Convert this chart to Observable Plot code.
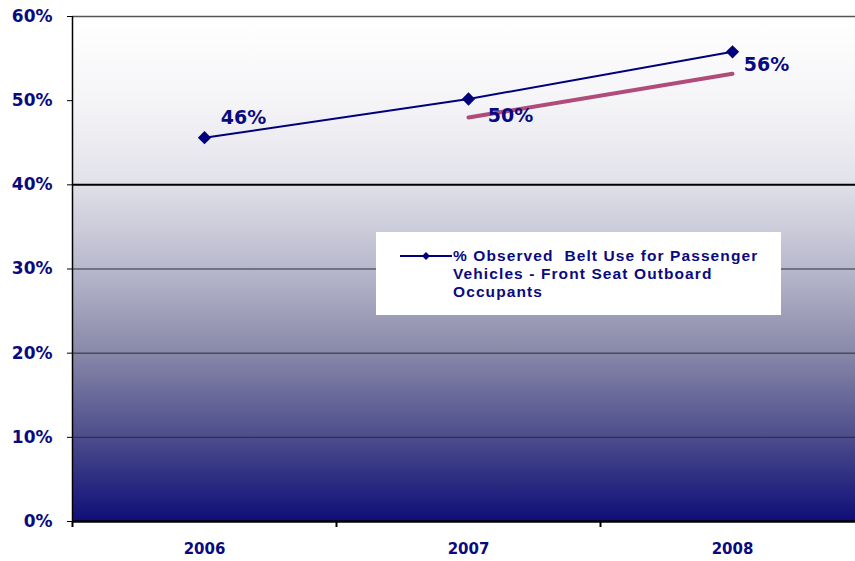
<!DOCTYPE html>
<html>
<head>
<meta charset="utf-8">
<script src="https://cdn.jsdelivr.net/npm/d3@7"></script>
<script src="https://cdn.jsdelivr.net/npm/@observablehq/plot@0.6"></script>
<style>
  html, body { margin: 0; padding: 0; background: #fff; }
  #wrap { position: relative; width: 855px; height: 561px; overflow: hidden; }
  #legend {
    position: absolute; left: 376px; top: 232px; width: 405px; height: 83px;
    background: #fff; box-sizing: border-box;
  }
  #legend svg { position: absolute; left: 22px; top: 16px; }
  #legend .txt {
    position: absolute; left: 77px; top: 15px;
    font-family: "Liberation Sans", Arial, sans-serif; font-weight: bold;
    font-size: 15.5px; line-height: 18px; letter-spacing: 1.1px; color: #0a0a80;
    white-space: pre;
  }
</style>
</head>
<body>
<div id="wrap"></div>
<script>
const years = [2006, 2007, 2008];
const beltUse = [45.6, 50.2, 55.8];
const pointLabels = ["46%", "50%", "56%"];
const trendYears = [2007, 2008];
const trendValues = [48.0, 53.2];
const yTicks = [0, 10, 20, 30, 40, 50, 60];
const gridValues = [10, 20, 30];
const boldGrid = [40];
const legendLines = ["% Observed  Belt Use for Passenger", "Vehicles - Front Seat Outboard", "Occupants"];

const series = years.map((y, i) => ({year: y, value: beltUse[i], label: pointLabels[i]}));
const trend = trendYears.map((y, i) => ({year: y, value: trendValues[i]}));
const navy = "#0a0a80";
const labelFont = {fontFamily: "DejaVu Sans, sans-serif", fontWeight: "bold", fontSize: 19, fill: navy};

const plot = Plot.plot({
  width: 855,
  height: 561,
  marginLeft: 72,
  marginRight: 0,
  marginTop: 16,
  marginBottom: 40,
  style: {overflow: "hidden", background: "white"},
  x: {type: "linear", domain: [2005.5, 2008.5], range: [72, 864]},
  y: {domain: [0, 60], range: [521, 16]},
  marks: [
    Plot.frame({fill: "url(#bgGrad)", stroke: null}),
    Plot.ruleY(gridValues, {stroke: "#2a2a3a", strokeWidth: 1}),
    Plot.ruleY(boldGrid, {stroke: "#000", strokeWidth: 2}),
    Plot.ruleY([60], {stroke: "#555", strokeWidth: 1.5}),
    Plot.axisY({ticks: yTicks, tickFormat: d => d + "%", tickSize: 5, tickPadding: 15,
      fontFamily: "DejaVu Sans, sans-serif", fontWeight: "bold", fontSize: 17, color: navy, stroke: "#000", label: null}),
    Plot.axisX({ticks: [2005.5, 2006.5, 2007.5], tickFormat: () => "", tickSize: 6, stroke: "#000", strokeWidth: 2, label: null}),
    Plot.axisX({ticks: years, tickFormat: d => String(d), tickSize: 0, tickPadding: 22,
      fontFamily: "DejaVu Sans, sans-serif", fontWeight: "bold", fontSize: 15, color: navy, label: null}),
    Plot.ruleX([2005.5], {stroke: "#000", strokeWidth: 1.5}),
    Plot.ruleY([0], {stroke: "#000", strokeWidth: 2.5}),
    Plot.line(trend, {x: "year", y: "value", stroke: "#a8386c", strokeWidth: 4, strokeOpacity: 0.9}),
    Plot.line(series, {x: "year", y: "value", stroke: "#00007a", strokeWidth: 2}),
    Plot.dot(series, {x: "year", y: "value", symbol: "diamond2", r: 6, fill: "#00007a", stroke: null}),
    Plot.text([series[0]], {x: "year", y: "value", text: "label", dx: 39, dy: -20, ...labelFont}),
    Plot.text([series[1]], {x: "year", y: "value", text: "label", dx: 42, dy: 17, ...labelFont}),
    Plot.text([series[2]], {x: "year", y: "value", text: "label", dx: 34, dy: 13, ...labelFont})
  ]
});

const svg = d3.select(plot);
const defs = svg.insert("defs", ":first-child");
const grad = defs.append("linearGradient").attr("id", "bgGrad")
  .attr("x1", 0).attr("y1", 0).attr("x2", 0).attr("y2", 1);
[[0, "#ffffff"], [0.166, "#f5f5f8"], [0.325, "#e2e2ea"], [0.5, "#b8b8cc"],
 [0.66, "#8a8aaa"], [0.834, "#4c4c8c"], [1, "#0e0e78"]]
  .forEach(([o, c]) => grad.append("stop").attr("offset", o).attr("stop-color", c));

const wrap = document.getElementById("wrap");
wrap.appendChild(plot);

const legend = document.createElement("div");
legend.id = "legend";
legend.innerHTML = `<svg width="56" height="16"><line x1="2" y1="8" x2="54" y2="8" stroke="#00007a" stroke-width="2"/><path d="M28,4 L32,8 L28,12 L24,8 Z" fill="#00007a"/></svg><div class="txt"></div>`;
legend.querySelector(".txt").textContent = legendLines.join("\n");
wrap.appendChild(legend);
</script>
</body>
</html>
